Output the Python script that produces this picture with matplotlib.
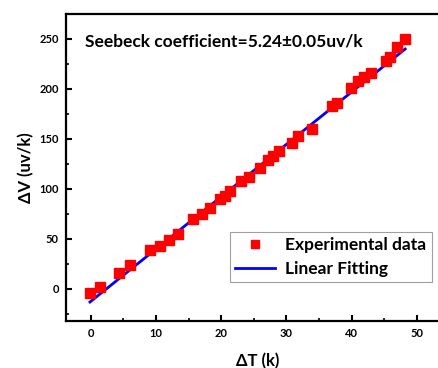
import matplotlib.pyplot as plt
import numpy as np

plt.rcParams['font.family'] = ['Lato', 'DejaVu Sans']
plt.rcParams['font.weight'] = 'bold'

# experimental points
dT = [-0.1, 1.4, 4.3, 6.0, 9.05, 10.7, 12.0, 13.4, 15.7, 17.0, 18.3, 19.9,
      20.6, 21.4, 23.1, 24.3, 26.0, 27.2, 27.9, 28.9, 30.9, 31.8, 33.9,
      37.0, 37.7, 39.9, 40.9, 41.9, 42.9, 45.2, 45.9, 46.9, 48.2]
dV = [-4, 2, 15.7, 24.3, 39.3, 43.3, 48.7, 54.7, 70, 74.7, 81.3, 90.3,
      92.7, 98.3, 108, 112, 121, 129, 132.7, 138.3, 146.3, 152.5, 160.3,
      183.3, 186.3, 200.7, 208, 212, 216, 228.3, 231.7, 242.3, 250]

slope = 5.24
intercept = -12.6
fit_x = [min(dT), max(dT)]

xticks = [0, 10, 20, 30, 40, 50]
yticks = [0, 50, 100, 150, 200, 250]

fig = plt.figure(figsize=(4.39, 3.68), dpi=100)
ax = fig.add_axes([0.150, 0.128, 0.874, 0.834])

ax.plot(dT, dV, 's', color='#ff0000', markersize=7, label='Experimental data', zorder=3)
ax.plot(fit_x, [slope * x + intercept for x in fit_x], '-', color='#0000ff',
        linewidth=2, label='Linear Fitting', zorder=2)

ax.set_xlim(-3.8, 55)
ax.set_ylim(-32, 275)
ax.set_xticks(xticks)
ax.set_yticks(yticks)
ax.set_xticks(np.arange(5, 55, 10), minor=True)
ax.set_yticks(np.arange(-25, 275, 50), minor=True)
ax.tick_params(which='major', direction='in', length=4, width=1.5, labelsize=8, pad=5)
ax.tick_params(which='minor', direction='in', length=2, width=1.2)
for lbl in ax.get_xticklabels() + ax.get_yticklabels():
    lbl.set_fontweight('bold')
for s in ax.spines.values():
    s.set_linewidth(1.6)

ax.set_xlabel('ΔT (k)', fontsize=12, fontweight='bold', labelpad=10)
ax.set_ylabel('ΔV (uv/k)', fontsize=12, fontweight='bold', labelpad=4)

ax.text(-0.9, 247, 'Seebeck coefficient=5.24±0.05uv/k', fontsize=12.5,
        fontweight='bold', va='center', ha='left')

leg = ax.legend(loc='upper left', bbox_to_anchor=(0.4275, 0.29), fontsize=12.5,
                frameon=True, fancybox=False, edgecolor='#888888',
                handlelength=2.3, handletextpad=0.6, borderpad=0.3,
                labelspacing=0.45, numpoints=1, markerscale=0.75,
                borderaxespad=0)
for t in leg.get_texts():
    t.set_fontweight('bold')
leg.get_frame().set_linewidth(0.8)

fig.savefig('out.png', dpi=100)
